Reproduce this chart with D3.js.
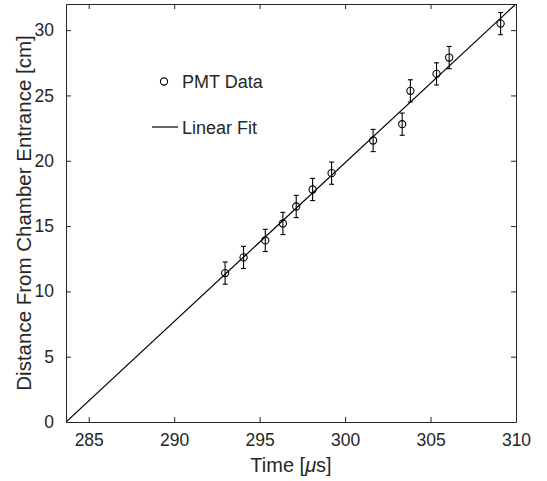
<!DOCTYPE html>
<html>
<head>
<meta charset="utf-8">
<script src="https://cdn.jsdelivr.net/npm/d3@7"></script>
<style>
  body { margin: 0; background: #fff; }
  text { font-family: "Liberation Sans", Arial, sans-serif; fill: #262626; }
</style>
</head>
<body>
<div id="chart"></div>
<script>
// PMT data
var times = [292.98, 294.06, 295.33, 296.36, 297.14, 298.10, 299.21, 301.64, 303.34, 303.82, 305.35, 306.09, 309.10]
var distances = [11.4, 12.6, 13.9, 15.2, 16.5, 17.8, 19.05, 21.55, 22.8, 25.35, 26.65, 27.9, 30.5]
var errors = [0.85, 0.85, 0.85, 0.85, 0.85, 0.85, 0.85, 0.85, 0.85, 0.85, 0.85, 0.85, 0.85]

// linear fit: d = slope * (t - t0)
var fitSlope = 1.2154
var fitT0 = 283.67

var xTicks = [285, 290, 295, 300, 305, 310]
var yTicks = [0, 5, 10, 15, 20, 25, 30]

var width = 547, height = 481
var margin = {top: 4, right: 31, bottom: 59, left: 66}

var svg = d3.select("#chart").append("svg")
  .attr("width", width)
  .attr("height", height)

var x = d3.scaleLinear().domain([283.67, 310]).range([margin.left, width - margin.right])
var y = d3.scaleLinear().domain([0, 32]).range([height - margin.bottom, margin.top])

var plot = svg.append("g")

// clip so the fit line stays in the box
svg.append("clipPath").attr("id", "clip")
  .append("rect")
  .attr("x", margin.left).attr("y", margin.top)
  .attr("width", x.range()[1] - margin.left)
  .attr("height", y.range()[0] - margin.top)

// fit line
var fitX = x.domain()
plot.append("line")
  .attr("clip-path", "url(#clip)")
  .attr("x1", x(fitX[0])).attr("y1", y(fitSlope * (fitX[0] - fitT0)))
  .attr("x2", x(fitX[1])).attr("y2", y(fitSlope * (fitX[1] - fitT0)))
  .attr("stroke", "#000").attr("stroke-width", 1.2)

var data = times.map(function(t, i) { return {t: t, d: distances[i], e: errors[i]} })

// error bars
var bars = plot.selectAll(".err").data(data).enter().append("g")
  .attr("stroke", "#000").attr("stroke-width", 1.1)
bars.append("line")
  .attr("x1", function(d) { return x(d.t) }).attr("x2", function(d) { return x(d.t) })
  .attr("y1", function(d) { return y(d.d - d.e) }).attr("y2", function(d) { return y(d.d + d.e) })
bars.append("line")
  .attr("x1", function(d) { return x(d.t) - 2.5 }).attr("x2", function(d) { return x(d.t) + 2.5 })
  .attr("y1", function(d) { return y(d.d + d.e) }).attr("y2", function(d) { return y(d.d + d.e) })
bars.append("line")
  .attr("x1", function(d) { return x(d.t) - 2.5 }).attr("x2", function(d) { return x(d.t) + 2.5 })
  .attr("y1", function(d) { return y(d.d - d.e) }).attr("y2", function(d) { return y(d.d - d.e) })

// markers
plot.selectAll("circle").data(data).enter().append("circle")
  .attr("cx", function(d) { return x(d.t) })
  .attr("cy", function(d) { return y(d.d) })
  .attr("r", 3.6)
  .attr("fill", "none")
  .attr("stroke", "#000")
  .attr("stroke-width", 1.1)

// axes (ticks pointing inward, box on all sides)
var axisColor = "#262626"
function styleAxis(g) {
  g.select(".domain").attr("stroke", axisColor)
  g.selectAll(".tick line").attr("stroke", axisColor)
  g.selectAll(".tick text").attr("fill", axisColor)
    .style("font-family", "'Liberation Sans', Arial, sans-serif")
    .style("font-size", "17.5px")
}

svg.append("g")
  .attr("transform", "translate(0," + y.range()[0] + ")")
  .call(d3.axisBottom(x).tickValues(xTicks).tickSizeInner(-5).tickSizeOuter(0).tickPadding(12))
  .call(styleAxis)

svg.append("g")
  .attr("transform", "translate(0," + margin.top + ")")
  .call(d3.axisTop(x).tickValues(xTicks).tickSizeInner(-5).tickSizeOuter(0).tickFormat(""))
  .call(styleAxis)

svg.append("g")
  .attr("transform", "translate(" + margin.left + ",0)")
  .call(d3.axisLeft(y).tickValues(yTicks).tickSizeInner(-5).tickSizeOuter(0).tickPadding(12))
  .call(styleAxis)

svg.append("g")
  .attr("transform", "translate(" + x.range()[1] + ",0)")
  .call(d3.axisRight(y).tickValues(yTicks).tickSizeInner(-5).tickSizeOuter(0).tickFormat(""))
  .call(styleAxis)

// axis labels
var xl = svg.append("text")
  .attr("x", (x.range()[0] + x.range()[1]) / 2)
  .attr("y", 472)
  .attr("text-anchor", "middle")
  .style("font-size", "20px")
xl.append("tspan").text("Time [")
xl.append("tspan").style("font-style", "italic").text("\u03bc")
xl.append("tspan").text("s]")

svg.append("text")
  .attr("transform", "translate(31," + (y.range()[0] + y.range()[1]) / 2 + ") rotate(-90)")
  .attr("text-anchor", "middle")
  .style("font-size", "20.5px")
  .text("Distance From Chamber Entrance [cm]")

// legend
var legend = svg.append("g")
legend.append("circle")
  .attr("cx", 164).attr("cy", 81.5).attr("r", 3.6)
  .attr("fill", "none").attr("stroke", "#000").attr("stroke-width", 1.1)
legend.append("text").attr("x", 182).attr("y", 88).style("font-size", "18px").text("PMT Data")
legend.append("line")
  .attr("x1", 152).attr("x2", 178).attr("y1", 127).attr("y2", 127)
  .attr("stroke", "#000").attr("stroke-width", 1.2)
legend.append("text").attr("x", 182).attr("y", 133.5).style("font-size", "18px").text("Linear Fit")
</script>
</body>
</html>
